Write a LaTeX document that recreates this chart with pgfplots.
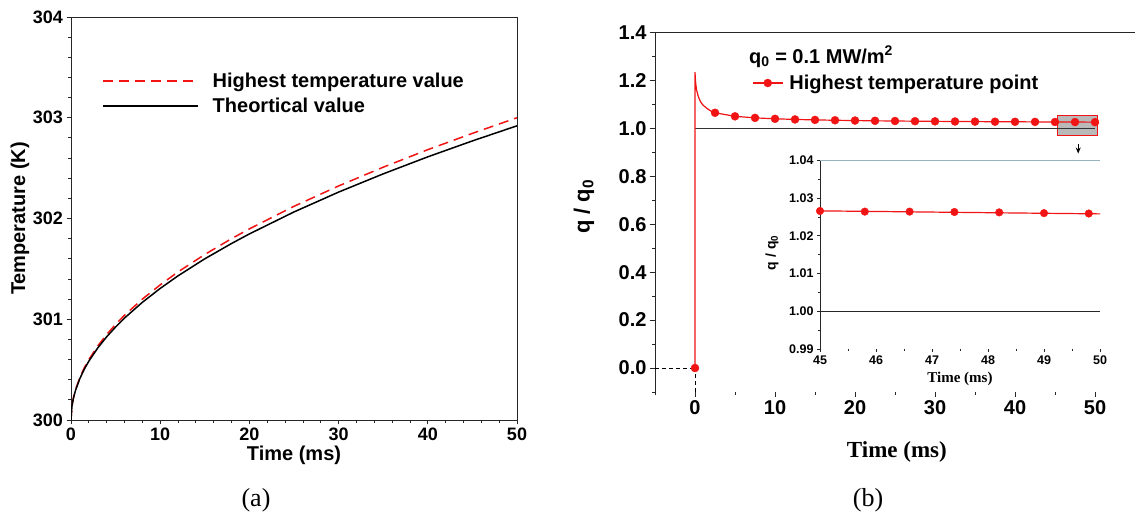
\documentclass[border=0pt]{standalone}
\usepackage{fontspec}
\setmainfont{Liberation Sans}
\newfontfamily\timesf{Liberation Serif}
\usepackage{pgfplots}
\pgfplotsset{compat=1.18}
\usetikzlibrary{arrows.meta}
\definecolor{myred}{RGB}{240,20,20}
\definecolor{insettop}{RGB}{150,180,190}
\newcommand{\fs}[1]{\fontsize{#1bp}{#1bp}\selectfont}

\begin{document}
\begin{tikzpicture}
\useasboundingbox (0,0) rectangle (1135bp,519bp);
% ---------------- panel (a)
\begin{axis}[
 at={(71bp,99bp)}, anchor=south west, scale only axis,
 width=446bp, height=403bp,
 xmin=0, xmax=50, ymin=300, ymax=304,
 xtick={0,10,20,30,40,50}, ytick={300,301,302,303,304},
 minor x tick num=4, minor y tick num=4,
 tick align=outside, tick pos=left,
 major tick length=4.5bp, minor tick length=3bp,
 axis line style={black!85, line width=0.9bp},
 every tick/.style={black!85, line width=0.8bp},
 /pgf/number format/assume math mode=true,
 tick label style={font=\fs{18}\bfseries},
 xlabel={Time (ms)}, ylabel={Temperature (K)},
 label style={font=\fs{20}\bfseries},
 xlabel style={at={(axis description cs:0.5,-0.0868)}, anchor=center},
 ylabel style={at={(axis description cs:-0.1143,0.5)}, anchor=center},
 legend style={draw=none, fill=none, at={(0.0695,0.8100)}, anchor=west,
   font=\fs{20}\bfseries, inner sep=0pt, row sep=5bp,
   /tikz/every odd column/.append style={column sep=12bp}},
 legend cell align=left,
 legend image code/.code={\draw[#1] (0bp,0bp) -- (95bp,0bp);},
]
\addplot[myred, line width=1.5bp, dash pattern=on 10bp off 6bp] coordinates {
(0,300) (0.1,300.134) (0.25,300.212) (0.5,300.300) (1,300.424) (1.5,300.520)
(2,300.600) (3,300.735) (4,300.849) (5,300.949) (6,301.040) (8,301.200)
(10,301.341) (12,301.470) (15,301.643) (18,301.800) (20,301.897) (25,302.121)
(30,302.323) (35,302.509) (40,302.683) (45,302.845) (50,303.000)};
\addlegendentry{Highest temperature value}
\addplot[black, line width=1.5bp] coordinates {
(0,300) (0.1,300.131) (0.25,300.207) (0.5,300.292) (1,300.413) (1.5,300.506)
(2,300.584) (3,300.715) (4,300.826) (5,300.923) (6,301.012) (8,301.168)
(10,301.306) (12,301.431) (15,301.600) (18,301.752) (20,301.847) (25,302.065)
(30,302.262) (35,302.443) (40,302.612) (45,302.770) (50,302.920)};
\addlegendentry{Theortical value}
\end{axis}
% ---------------- panel (b)
\begin{axis}[
 at={(655bp,127bp)}, anchor=south west, scale only axis,
 width=480bp, height=359.5bp,
 xmin=-5, xmax=55, ymin=-0.1, ymax=1.4,
 xtick={0,10,20,30,40,50}, ytick={0,0.2,0.4,0.6,0.8,1.0,1.2,1.4},
 minor xtick={-5,5,15,25,35,45,55},
 minor ytick={-0.1,0.1,0.3,0.5,0.7,0.9,1.1,1.3},
 yticklabel style={/pgf/number format/.cd,fixed,fixed zerofill,precision=1},
 tick align=outside, tick pos=left,
 major tick length=5bp, minor tick length=3bp,
 axis line style={draw=none},
 every tick/.style={black!85, line width=0.8bp},
 /pgf/number format/assume math mode=true,
 tick label style={font=\fs{20}\bfseries},
 xlabel={\timesf\bfseries Time (ms)}, ylabel={q / q\textsubscript{0}},
 xlabel style={font=\fs{23}, at={(axis description cs:0.504,-0.1669)}, anchor=center},
 ylabel style={font=\fs{22}\bfseries, at={(axis description cs:-0.148,0.515)}, anchor=center},
 legend style={draw=none, fill=none, at={(0.202,0.8595)}, anchor=west,
   font=\fs{20}\bfseries, inner sep=0pt,
   /tikz/every odd column/.append style={column sep=4bp}},
 legend cell align=left,
 legend image code/.code={\draw[myred, line width=1.2bp] (0bp,0bp) -- (30bp,0bp);
   \draw[#1] plot coordinates {(15bp,0bp)};},
]
\draw[myred, fill=gray!55, line width=0.8bp] (axis cs:45.25,0.971) rectangle (axis cs:50.3,1.055);
\draw[black!85, line width=0.9bp] (rel axis cs:0,0) -- (rel axis cs:1,0);
\draw[black!85, line width=0.9bp] (rel axis cs:0,0) -- (rel axis cs:0,1);
\draw[black!85, line width=0.9bp] (rel axis cs:0,1) -- (rel axis cs:1,1);
\addplot[black!80, line width=0.9bp, forget plot] coordinates {(0,1) (50,1)};
\addplot[black, line width=0.8bp, dash pattern=on 4bp off 3bp, forget plot] coordinates {(-5,0) (0,0)};
\addplot[black, line width=0.8bp, dash pattern=on 4bp off 3bp, forget plot] coordinates {(0,-0.1) (0,0)};
\addplot[myred, line width=1.2bp, forget plot] coordinates {
(0,0) (0,1.235) (0.05,1.205) (0.1,1.185) (0.2,1.16) (0.35,1.14) (0.5,1.125)
(0.75,1.108) (1,1.097) (1.5,1.083) (2,1.072) (2.5,1.065) (5,1.0503) (7.5,1.0438)
(10,1.0399) (12.5,1.0373) (15,1.0353) (17.5,1.0338) (20,1.0326) (22.5,1.0315)
(25,1.0307) (27.5,1.0299) (30,1.0293) (32.5,1.0287) (35,1.0282) (37.5,1.0278)
(40,1.0274) (42.5,1.0270) (45,1.0266) (47.5,1.0263) (50,1.0260)};
\addplot[only marks, mark=*, mark size=4bp, myred] coordinates {
(0,0) (2.5,1.065) (5,1.0503) (7.5,1.0438)
(10,1.0399) (12.5,1.0373) (15,1.0353) (17.5,1.0338) (20,1.0326) (22.5,1.0315)
(25,1.0307) (27.5,1.0299) (30,1.0293) (32.5,1.0287) (35,1.0282) (37.5,1.0278)
(40,1.0274) (42.5,1.0270) (45,1.0266) (47.5,1.0263) (50,1.0260)};
\addlegendentry{Highest temperature point}
\draw[-{Stealth[length=6bp,width=5bp]}, line width=1.2bp, black] (axis cs:47.9,0.935) -- (axis cs:47.9,0.895);
\node[font=\fs{20}\bfseries, anchor=west, inner sep=0pt] at (axis cs:6.75,1.30) {q\textsubscript{0} = 0.1 MW/m\textsuperscript{2}};
\end{axis}
% ---------------- inset
\begin{axis}[
 at={(820bp,170bp)}, anchor=south west, scale only axis,
 width=280bp, height=188.7bp,
 xmin=45, xmax=50, ymin=0.99, ymax=1.04,
 xtick={45,46,47,48,49,50}, ytick={0.99,1.00,1.01,1.02,1.03,1.04},
 minor x tick num=1, minor y tick num=1,
 yticklabel style={/pgf/number format/.cd,fixed,fixed zerofill,precision=2},
 tick align=outside, tick pos=left,
 major tick length=3bp, minor tick length=2bp,
 axis line style={draw=none},
 every tick/.style={black!85, line width=0.7bp},
 /pgf/number format/assume math mode=true,
 tick label style={font=\fs{12.5}\bfseries},
 xlabel={\timesf\bfseries Time (ms)}, ylabel={q / q\textsubscript{0}},
 xlabel style={font=\fs{15}, at={(axis description cs:0.5,-0.159)}, anchor=center},
 ylabel style={font=\fs{14}\bfseries, at={(axis description cs:-0.171,0.51)}, anchor=center},
]
\draw[black!85, line width=0.9bp] (rel axis cs:0,0) -- (rel axis cs:1,0);
\draw[black!85, line width=0.9bp] (rel axis cs:0,0) -- (rel axis cs:0,1);
\draw[insettop, line width=0.9bp] (rel axis cs:0,1) -- (rel axis cs:1,1);
\addplot[black!85, line width=0.9bp] coordinates {(45,1.0) (50,1.0)};
\addplot[myred, line width=1.2bp] coordinates {(45,1.0266) (50,1.0258)};
\addplot[only marks, mark=*, mark size=3.8bp, myred] coordinates {
(45,1.02657) (45.8,1.0264) (46.6,1.0264) (47.4,1.0263) (48.2,1.0262) (49,1.0260) (49.8,1.0259)};
\end{axis}
\node[font=\timesf\fs{26}] at (256bp,19bp) {(a)};
\node[font=\timesf\fs{26}] at (868bp,19bp) {(b)};
\end{tikzpicture}
\end{document}
